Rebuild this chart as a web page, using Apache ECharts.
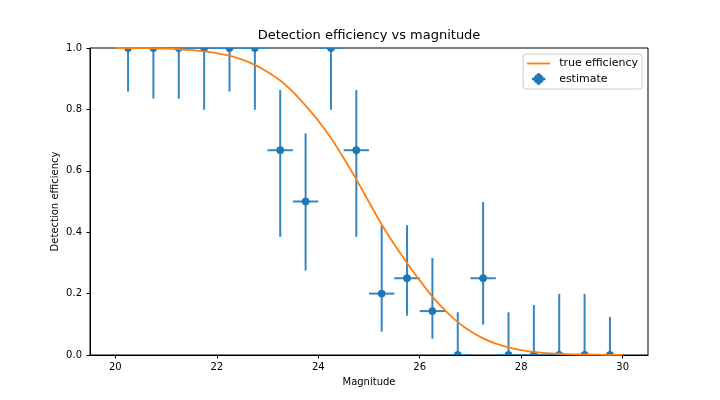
<!DOCTYPE html>
<html>
<head>
<meta charset="utf-8">
<script src="https://cdn.jsdelivr.net/npm/echarts@6/dist/echarts.min.js"></script>
<style>html,body{margin:0;padding:0;background:#fff}#c{width:720px;height:400px}</style>
</head>
<body>
<div id="c"></div>
<script>
// Binned estimates
var binCenters = [20.25,20.75,21.25,21.75,22.25,22.75,23.25,23.75,24.25,24.75,25.25,25.75,26.25,26.75,27.25,27.75,28.25,28.75,29.25,29.75];
var estimate   = [1.0,1.0,1.0,1.0,1.0,1.0,0.667,0.5,1.0,0.667,0.2,0.25,0.143,0.0,0.25,0.0,0.0,0.0,0.0,0.0];
var errLow     = [0.858,0.835,0.835,0.799,0.858,0.799,0.385,0.275,0.799,0.385,0.076,0.128,0.053,0.0,0.099,0.0,0.0,0.0,0.0,0.0];
var errHigh    = [1.0,1.0,1.0,1.0,1.0,1.0,0.863,0.722,1.0,0.863,0.421,0.423,0.316,0.139,0.498,0.139,0.163,0.199,0.199,0.124];
var binHalfWidth = [0.25,0.25,0.25,0.25,0.25,0.25,0.25,0.25,0.25,0.25,0.25,0.25,0.25,0.25,0.25,0.25,0.25,0.25,0.25,0.25];

// True efficiency curve
var curveMag = [20.0,20.25,20.5,20.75,21.0,21.25,21.5,21.75,22.0,22.25,22.5,22.75,23.0,23.25,23.5,23.75,24.0,24.25,24.5,24.75,25.0,25.25,25.5,25.75,26.0,26.25,26.5,26.75,27.0,27.25,27.5,27.75,28.0,28.25,28.5,28.75,29.0,29.25,29.5,29.75,30.0];
var curveEff = [1.0,1.0,0.9995,0.999,0.998,0.996,0.993,0.989,0.983,0.975,0.962,0.945,0.922,0.894,0.857,0.812,0.763,0.707,0.642,0.572,0.498,0.425,0.360,0.300,0.243,0.190,0.145,0.107,0.077,0.054,0.037,0.025,0.016,0.010,0.006,0.004,0.002,0.0015,0.001,0.0005,0.0003];

var xTicks = [20,22,24,26,28,30];

var BLUE = '#1f77b4', BAR = '#3585bf', ORANGE = '#ff7f0e';
var FONT = 'DejaVu Sans';

var errData = binCenters.map(function(x,i){ return [x, estimate[i], errLow[i], errHigh[i], binHalfWidth[i]]; });
var lineData = curveMag.map(function(m,i){ return [m, curveEff[i]]; });

var chart = echarts.init(document.getElementById('c'), null, {renderer:'canvas'});
chart.setOption({
  animation: false,
  backgroundColor: '#fff',
  title: {
    text: 'Detection efficiency vs magnitude',
    left: 369, top: 29, textAlign: 'center', padding: 0,
    textStyle: {fontFamily: FONT, fontSize: 13, fontWeight: 'normal', color: '#000'}
  },
  grid: {left: 90, top: 48, right: 72, bottom: 45, show: true, borderColor: '#000', borderWidth: 1, backgroundColor: 'transparent', containLabel: false},
  legend: {
    orient: 'vertical', right: 78, top: 54,
    backgroundColor: 'rgba(255,255,255,0.8)', borderColor: '#cccccc', borderWidth: 1, borderRadius: 3,
    padding: [4, 4, 4, 4], itemGap: 4, itemWidth: 23, itemHeight: 12,
    textStyle: {fontFamily: FONT, fontSize: 11, color: '#000', padding: [0, 0, 0, 4]},
    data: [
      {name: 'true efficiency', icon: 'path://M0,5.1 L23,5.1 L23,6.9 L0,6.9 Z', itemStyle: {color: ORANGE, borderWidth: 0}},
      {name: 'estimate', icon: 'path://M10.6,1.5 L12.4,1.5 L12.4,10.5 L10.6,10.5 Z M6.5,5.1 L16.5,5.1 L16.5,6.9 L6.5,6.9 Z M7.7,6 A3.8,3.8 0 1,1 15.3,6 A3.8,3.8 0 1,1 7.7,6 Z', itemStyle: {color: BLUE, borderWidth: 0, opacity: 1}}
    ]
  },
  xAxis: {
    type: 'value', min: 19.5, max: 30.5,
    name: 'Magnitude', nameLocation: 'middle', nameGap: 22,
    nameTextStyle: {fontFamily: FONT, fontSize: 10, color: '#000'},
    axisLine: {show: true, onZero: false, lineStyle: {color: '#000', width: 1}},
    axisTick: {show: true, inside: false, length: 3.5, customValues: xTicks, lineStyle: {color: '#000'}},
    axisLabel: {customValues: xTicks, margin: 7, fontFamily: FONT, fontSize: 10, color: '#000', formatter: function(v){ return String(v); }},
    splitLine: {show: false}
  },
  yAxis: {
    type: 'value', min: 0, max: 1, interval: 0.2,
    name: 'Detection efficiency', nameLocation: 'middle', nameGap: 30, nameMoveOverlap: false,
    nameTextStyle: {fontFamily: FONT, fontSize: 10, color: '#000'},
    axisLine: {show: true, onZero: false, lineStyle: {color: '#000', width: 1}},
    axisTick: {show: true, inside: false, length: 3.5, lineStyle: {color: '#000'}},
    axisLabel: {margin: 8, fontFamily: FONT, fontSize: 10, color: '#000', formatter: function(v){ return v.toFixed(1); }},
    splitLine: {show: false}
  },
  series: [
    {
      name: 'estimate', type: 'custom', clip: true, z: 2,
      itemStyle: {color: BLUE},
      data: errData,
      encode: {x: 0, y: 1},
      renderItem: function(params, api){
        var x = api.value(0), y = api.value(1), lo = api.value(2), hi = api.value(3), hw = api.value(4);
        var pC = api.coord([x, y]);
        var pLo = api.coord([x, lo]), pHi = api.coord([x, hi]);
        var pL = api.coord([x - hw, y]), pR = api.coord([x + hw, y]);
        var ls = {stroke: BAR, lineWidth: 2};
        return {
          type: 'group',
          children: [
            {type: 'line', shape: {x1: pLo[0], y1: pLo[1], x2: pHi[0], y2: pHi[1]}, style: ls},
            {type: 'line', shape: {x1: pL[0], y1: pL[1], x2: pR[0], y2: pR[1]}, style: ls},
            {type: 'circle', shape: {cx: pC[0], cy: pC[1], r: 3.7}, style: {fill: BLUE, stroke: BLUE, lineWidth: 0.5}}
          ]
        };
      }
    },
    {
      name: 'true efficiency', type: 'line', z: 3,
      data: lineData, showSymbol: false, symbol: 'none', smooth: 0.3,
      lineStyle: {color: ORANGE, width: 1.8},
      itemStyle: {color: ORANGE}
    }
  ]
});
</script>
</body>
</html>
